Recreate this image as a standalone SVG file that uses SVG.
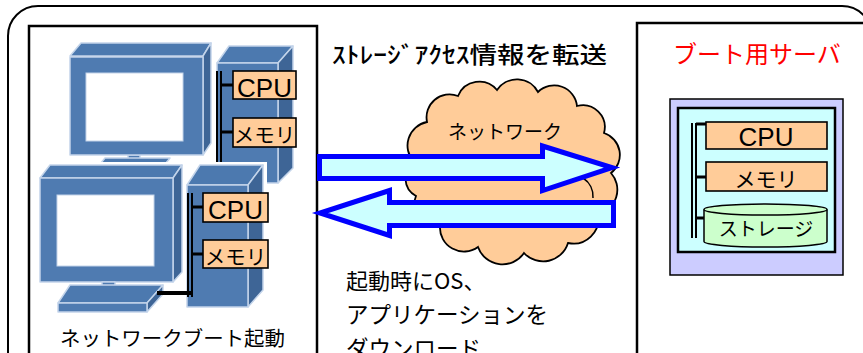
<svg xmlns="http://www.w3.org/2000/svg" width="863" height="353" viewBox="0 0 863 353">
  <style>
    .jp { font-family: "Noto Sans CJK JP", "Noto Sans", sans-serif; }
    .lat { font-family: "Liberation Sans", Arial, sans-serif; }
    .frame { fill: #ffffff; stroke: #000000; stroke-width: 2.5; }
    .face { fill: #4f7bb1; stroke: #c3d4ea; stroke-width: 1.5; stroke-linejoin: round; }
    .top { fill: #4c79af; stroke: #c3d4ea; stroke-width: 1.5; stroke-linejoin: round; }
    .side { fill: #3e6596; stroke: #c3d4ea; stroke-width: 1.5; stroke-linejoin: round; }
    .screen { fill: #ffffff; stroke: #c3d4ea; stroke-width: 1; }
    .part { fill: #ffcc99; stroke: #000000; stroke-width: 1.6; }
    .bus { stroke: #000000; fill: none; }
    .arrow { fill: #ccffff; stroke: #0000ff; stroke-width: 5; stroke-linejoin: miter; }
  </style>

  <!-- outer rounded frame -->
  <rect x="8" y="6" width="864" height="380" rx="30" ry="30" fill="#ffffff" stroke="#000000" stroke-width="2"/>

  <!-- client side panel -->
  <g id="client-panel">
    <rect class="frame" x="29" y="26" width="288" height="360"/>
  </g>

  <!-- server side panel -->
  <g id="server-panel">
    <rect class="frame" x="637" y="23" width="260" height="360"/>
    <text class="jp" x="673" y="63" font-size="24" fill="#ff0000">ブート用サーバ</text>
  </g>

  <!-- rear client PC -->
  <g id="pc-rear">
    <rect class="face" x="128" y="155" width="12" height="5"/>
    <polygon class="top" points="105,158 170,158 162,168 97,168"/>
    <polygon class="top" points="70,56 81,43 211,43 203,56"/>
    <polygon class="side" points="203,56 211,43 211,143 203,155"/>
    <rect class="face" x="70" y="57" width="133" height="98"/>
    <rect class="screen" x="86" y="73" width="97" height="68"/>
    <polygon class="top" points="217,63 229,46 293,46 278,63"/>
    <polygon class="side" points="278,63 293,46 293,168 278,183"/>
    <rect class="face" x="217" y="63" width="61" height="120"/>
    <line class="bus" x1="217" y1="71" x2="217" y2="166" stroke-width="2"/>
    <line class="bus" x1="221" y1="71" x2="221" y2="166" stroke-width="2"/>
    <line class="bus" x1="221" y1="85" x2="233" y2="85" stroke-width="3"/>
    <line class="bus" x1="221" y1="132" x2="233" y2="132" stroke-width="3"/>
    <rect class="part" x="233" y="71" width="63" height="28"/>
    <text class="lat" x="264.5" y="97" font-size="26" text-anchor="middle">CPU</text>
    <rect class="part" x="233" y="118" width="63" height="29"/>
    <text class="jp" x="264.5" y="143" font-size="20.5" text-anchor="middle">メモリ</text>
  </g>

  <!-- front client PC -->
  <g id="pc-front">
    <rect x="40" y="162" width="227" height="156" fill="#ffffff"/>
    <polygon class="top" points="40,178 50,165 182,165 173,178"/>
    <polygon class="side" points="173,178 182,165 182,272 173,282"/>
    <rect class="face" x="40" y="178" width="133" height="104"/>
    <rect class="screen" x="57" y="195" width="97" height="71"/>
    <rect class="face" x="102" y="282" width="13" height="10"/>
    <polygon class="top" points="70,285 163,285 147,303 58,303"/>
    <polygon class="side" points="147,303 163,285 163,294 147,312"/>
    <rect class="face" x="58" y="303" width="89" height="9"/>
    <polygon class="top" points="187,185 200,165 263,165 248,185"/>
    <polygon class="side" points="248,185 263,165 263,290 248,307"/>
    <rect class="face" x="187" y="185" width="61" height="122"/>
    <line class="bus" x1="157" y1="293" x2="192" y2="293" stroke-width="4"/>
    <line class="bus" x1="188" y1="193" x2="188" y2="297" stroke-width="2"/>
    <line class="bus" x1="192" y1="193" x2="192" y2="297" stroke-width="2"/>
    <line class="bus" x1="192" y1="207" x2="203" y2="207" stroke-width="3"/>
    <line class="bus" x1="192" y1="254" x2="203" y2="254" stroke-width="3"/>
    <rect class="part" x="203" y="193" width="65" height="29"/>
    <text class="lat" x="235.5" y="219" font-size="26" text-anchor="middle">CPU</text>
    <rect class="part" x="203" y="240" width="65" height="28"/>
    <text class="jp" x="235.5" y="265" font-size="20.5" text-anchor="middle">メモリ</text>
    <text class="jp" x="60" y="346" font-size="20.5" textLength="225" lengthAdjust="spacingAndGlyphs">ネットワークブート起動</text>
  </g>

  <!-- boot server -->
  <g id="boot-server">
    <rect x="670" y="99" width="173" height="176" fill="#ccccff" stroke="#000000" stroke-width="1.5"/>
    <rect x="678" y="108" width="157" height="144" fill="#ccffff" stroke="#000000" stroke-width="2.5"/>
    <line class="bus" x1="692" y1="123" x2="692" y2="238" stroke-width="2"/>
    <line class="bus" x1="696" y1="123" x2="696" y2="238" stroke-width="2"/>
    <line class="bus" x1="696" y1="124" x2="706" y2="124" stroke-width="3"/>
    <line class="bus" x1="696" y1="177" x2="706" y2="177" stroke-width="3"/>
    <line class="bus" x1="696" y1="218" x2="706" y2="218" stroke-width="3"/>
    <rect class="part" x="706" y="122" width="121" height="27"/>
    <text class="lat" x="766" y="146" font-size="26" text-anchor="middle">CPU</text>
    <rect class="part" x="706" y="162" width="121" height="29"/>
    <text class="jp" x="766" y="187" font-size="21" text-anchor="middle">メモリ</text>
    <path d="M704,209.5 V241.5 A61.5,5.5 0 0 0 827,241.5 V209.5" fill="#ccffcc" stroke="#000000" stroke-width="1.5"/>
    <ellipse cx="765.5" cy="209.5" rx="61.5" ry="5.5" fill="#ccffcc" stroke="#000000" stroke-width="1.5"/>
    <text class="jp" x="766" y="236" font-size="19" text-anchor="middle">ストレージ</text>
  </g>

  <!-- network cloud -->
  <g id="network">
    <path d="M414,162 A24,24 0 0 1 427,122 A23,23 0 0 1 458,96 A23,23 0 0 1 497,90 A24,24 0 0 1 538,92 A23,23 0 0 1 577,106 A22,22 0 0 1 604,133 A23,23 0 0 1 611,173 A25,25 0 0 1 598,214 A25,25 0 0 1 568,243 A26,26 0 0 1 524,253 A26,26 0 0 1 478,247 A24,24 0 0 1 440,226 A22,22 0 0 1 416,196 A20,20 0 0 1 414,162 Z" fill="#ffcc99" stroke="#000000" stroke-width="1.8"/>
    <path d="M583,178 A22,22 0 0 1 593,198" fill="none" stroke="#000000" stroke-width="1.5"/>
    <text class="jp" x="448" y="139" font-size="19">ネットワーク</text>
  </g>

  <!-- transfer arrows -->
  <g id="connectors">
    <polygon class="arrow" points="319.5,156.5 542.5,156.5 542.5,146 612,167.5 542.5,190.5 542.5,178.5 319.5,178.5"/>
    <polygon class="arrow" points="613.5,202.5 389.5,202.5 389.5,190.5 320,213 389.5,235.5 389.5,225.5 613.5,225.5"/>
  </g>

  <!-- captions -->
  <g id="captions">
    <text class="jp" x="332" y="63" font-size="23" font-weight="500" textLength="275" lengthAdjust="spacingAndGlyphs">ｽﾄﾚｰｼﾞｱｸｾｽ情報を転送</text>
    <text class="jp" x="346" y="289" font-size="22">起動時にOS、</text>
    <text class="jp" x="346" y="323" font-size="22.5">アプリケーションを</text>
    <text class="jp" x="346" y="357" font-size="22.5">ダウンロード</text>
  </g>
</svg>
